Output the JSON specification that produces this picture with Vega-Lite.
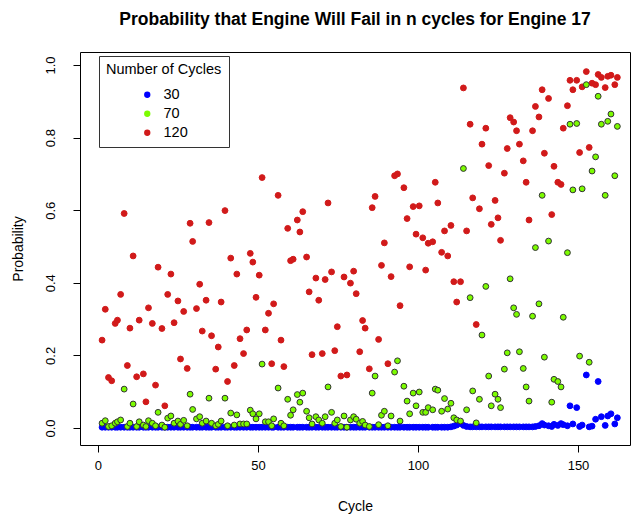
{
  "$schema": "https://vega.github.io/schema/vega-lite/v6.json",
  "autosize": "none",
  "width": 550,
  "height": 393,
  "padding": {"left": 80, "top": 52, "right": 7, "bottom": 70},
  "background": "white",
  "config": {
    "font": "Liberation Sans",
    "view": {"stroke": "black", "strokeWidth": 1},
    "axis": {"grid": false, "domain": false, "tickColor": "black", "tickSize": 7, "labelColor": "black", "labelFontSize": 13, "titleFontSize": 14, "titleFontWeight": "normal", "titleColor": "black", "labelFont": "Liberation Sans", "titleFont": "Liberation Sans"}
  },
  "title": {"text": "Probability that Engine Will Fail in n cycles for Engine 17", "fontSize": 17.5, "fontWeight": "bold", "font": "Liberation Sans", "color": "black", "offset": 24, "anchor": "middle"},
  "data": {"values": [
{"c":1.3,"s":"30","p":0.002},{"c":2.3,"s":"30","p":0.002},{"c":3.3,"s":"30","p":0.002},{"c":4.3,"s":"30","p":0.002},{"c":5.4,"s":"30","p":0.002},{"c":6.1,"s":"30","p":0.002},{"c":7.1,"s":"30","p":0.002},{"c":8.2,"s":"30","p":0.002},{"c":9.2,"s":"30","p":0.002},{"c":10,"s":"30","p":0.002},
{"c":11,"s":"30","p":0.002},{"c":12.1,"s":"30","p":0.002},{"c":12.9,"s":"30","p":0.002},{"c":14.2,"s":"30","p":0.002},{"c":15,"s":"30","p":0.002},{"c":15.8,"s":"30","p":0.002},{"c":17,"s":"30","p":0.002},{"c":18,"s":"30","p":0.002},{"c":18.8,"s":"30","p":0.002},{"c":20,"s":"30","p":0.002},
{"c":20.9,"s":"30","p":0.002},{"c":21.8,"s":"30","p":0.002},{"c":22.8,"s":"30","p":0.002},{"c":23.8,"s":"30","p":0.002},{"c":25,"s":"30","p":0.002},{"c":25.8,"s":"30","p":0.002},{"c":26.8,"s":"30","p":0.002},{"c":27.9,"s":"30","p":0.002},{"c":28.8,"s":"30","p":0.002},{"c":29.6,"s":"30","p":0.002},
{"c":30.8,"s":"30","p":0.002},{"c":31.8,"s":"30","p":0.002},{"c":32.6,"s":"30","p":0.002},{"c":33.8,"s":"30","p":0.002},{"c":34.7,"s":"30","p":0.002},{"c":35.5,"s":"30","p":0.002},{"c":36.8,"s":"30","p":0.002},{"c":37.6,"s":"30","p":0.002},{"c":38.5,"s":"30","p":0.002},{"c":39.7,"s":"30","p":0.002},
{"c":40.5,"s":"30","p":0.002},{"c":41.5,"s":"30","p":0.002},{"c":42.6,"s":"30","p":0.002},{"c":43.4,"s":"30","p":0.002},{"c":44.4,"s":"30","p":0.002},{"c":45.5,"s":"30","p":0.002},{"c":46.5,"s":"30","p":0.002},{"c":47.6,"s":"30","p":0.002},{"c":48.4,"s":"30","p":0.002},{"c":49.4,"s":"30","p":0.002},
{"c":50.4,"s":"30","p":0.002},{"c":51.3,"s":"30","p":0.002},{"c":52.3,"s":"30","p":0.002},{"c":53.3,"s":"30","p":0.002},{"c":54.3,"s":"30","p":0.002},{"c":54.9,"s":"30","p":0.002},{"c":56.3,"s":"30","p":0.002},{"c":57.2,"s":"30","p":0.002},{"c":58.1,"s":"30","p":0.002},{"c":59.3,"s":"30","p":0.002},
{"c":60.2,"s":"30","p":0.002},{"c":61,"s":"30","p":0.002},{"c":62.3,"s":"30","p":0.002},{"c":63.1,"s":"30","p":0.002},{"c":64,"s":"30","p":0.002},{"c":65.2,"s":"30","p":0.002},{"c":66,"s":"30","p":0.002},{"c":66.9,"s":"30","p":0.002},{"c":68.1,"s":"30","p":0.002},{"c":69,"s":"30","p":0.002},
{"c":70.1,"s":"30","p":0.002},{"c":71,"s":"30","p":0.002},{"c":71.9,"s":"30","p":0.002},{"c":73,"s":"30","p":0.002},{"c":74,"s":"30","p":0.002},{"c":74.8,"s":"30","p":0.002},{"c":75.9,"s":"30","p":0.002},{"c":76.9,"s":"30","p":0.002},{"c":77.8,"s":"30","p":0.002},{"c":78.9,"s":"30","p":0.002},
{"c":79.9,"s":"30","p":0.002},{"c":80.7,"s":"30","p":0.002},{"c":81.8,"s":"30","p":0.002},{"c":82.7,"s":"30","p":0.002},{"c":83.5,"s":"30","p":0.002},{"c":84.8,"s":"30","p":0.002},{"c":85.7,"s":"30","p":0.002},{"c":86.6,"s":"30","p":0.002},{"c":87.7,"s":"30","p":0.002},{"c":88.6,"s":"30","p":0.002},
{"c":89.5,"s":"30","p":0.002},{"c":90.6,"s":"30","p":0.002},{"c":91.6,"s":"30","p":0.002},{"c":92.7,"s":"30","p":0.002},{"c":93.6,"s":"30","p":0.002},{"c":94.4,"s":"30","p":0.002},{"c":95.6,"s":"30","p":0.002},{"c":96.6,"s":"30","p":0.002},{"c":97.4,"s":"30","p":0.002},{"c":98.5,"s":"30","p":0.002},
{"c":99.4,"s":"30","p":0.002},{"c":100.4,"s":"30","p":0.002},{"c":101.5,"s":"30","p":0.002},{"c":102.4,"s":"30","p":0.002},{"c":103.2,"s":"30","p":0.002},{"c":104.6,"s":"30","p":0.002},{"c":105.4,"s":"30","p":0.002},{"c":106.2,"s":"30","p":0.002},{"c":107.4,"s":"30","p":0.002},{"c":108.3,"s":"30","p":0.002},
{"c":109.3,"s":"30","p":0.002},{"c":110.3,"s":"30","p":0.003},{"c":111.2,"s":"30","p":0.005},{"c":112.1,"s":"30","p":0.008},{"c":113.3,"s":"30","p":0.012},{"c":114.2,"s":"30","p":0.007},{"c":115.2,"s":"30","p":0.004},{"c":116.3,"s":"30","p":0.003},{"c":117.1,"s":"30","p":0.003},{"c":118.2,"s":"30","p":0.003},
{"c":119.2,"s":"30","p":0.003},{"c":120,"s":"30","p":0.003},{"c":121.2,"s":"30","p":0.003},{"c":122.1,"s":"30","p":0.003},{"c":122.9,"s":"30","p":0.003},{"c":124.1,"s":"30","p":0.003},{"c":125,"s":"30","p":0.003},{"c":125.8,"s":"30","p":0.003},{"c":127,"s":"30","p":0.003},{"c":127.9,"s":"30","p":0.003},
{"c":128.8,"s":"30","p":0.003},{"c":129.9,"s":"30","p":0.003},{"c":130.8,"s":"30","p":0.003},{"c":131.7,"s":"30","p":0.003},{"c":132.9,"s":"30","p":0.003},{"c":133.8,"s":"30","p":0.003},{"c":134.7,"s":"30","p":0.003},{"c":135.8,"s":"30","p":0.003},{"c":136.7,"s":"30","p":0.004},{"c":137.8,"s":"30","p":0.006},
{"c":138.8,"s":"30","p":0.012},{"c":139.5,"s":"30","p":0.008},{"c":140.8,"s":"30","p":0.006},{"c":141.8,"s":"30","p":0.004},{"c":142.5,"s":"30","p":0.01},{"c":143.7,"s":"30","p":0.007},{"c":144.7,"s":"30","p":0.012},{"c":145.4,"s":"30","p":0.009},{"c":146.7,"s":"30","p":0.006},{"c":147.5,"s":"30","p":0.061},
{"c":148.4,"s":"30","p":0.011},{"c":149.6,"s":"30","p":0.056},{"c":150.5,"s":"30","p":0.004},{"c":151.3,"s":"30","p":0.008},{"c":152.6,"s":"30","p":0.146},{"c":153.5,"s":"30","p":0.003},{"c":154.4,"s":"30","p":0.005},{"c":155.5,"s":"30","p":0.024},{"c":156.3,"s":"30","p":0.128},{"c":157.3,"s":"30","p":0.031},
{"c":158.5,"s":"30","p":0.007},{"c":159.3,"s":"30","p":0.033},{"c":160.3,"s":"30","p":0.039},{"c":161.5,"s":"30","p":0.011},{"c":162.3,"s":"30","p":0.028},
{"c":1.3,"s":"120","p":0.242},{"c":2.3,"s":"120","p":0.327},{"c":3.3,"s":"120","p":0.139},{"c":4.3,"s":"120","p":0.13},{"c":5.4,"s":"120","p":0.288},{"c":6.1,"s":"120","p":0.297},{"c":7.1,"s":"120","p":0.368},{"c":8.2,"s":"120","p":0.591},{"c":9.2,"s":"120","p":0.172},{"c":10,"s":"120","p":0.275},
{"c":11,"s":"120","p":0.474},{"c":12.1,"s":"120","p":0.141},{"c":12.9,"s":"120","p":0.297},{"c":14.2,"s":"120","p":0.149},{"c":15,"s":"120","p":0.072},{"c":15.8,"s":"120","p":0.331},{"c":17,"s":"120","p":0.288},{"c":18,"s":"120","p":0.118},{"c":18.8,"s":"120","p":0.443},{"c":20,"s":"120","p":0.274},
{"c":20.9,"s":"120","p":0.061},{"c":21.8,"s":"120","p":0.368},{"c":22.8,"s":"120","p":0.424},{"c":23.8,"s":"120","p":0.29},{"c":25,"s":"120","p":0.35},{"c":25.8,"s":"120","p":0.19},{"c":26.8,"s":"120","p":0.321},{"c":27.9,"s":"120","p":0.164},{"c":28.8,"s":"120","p":0.564},{"c":29.6,"s":"120","p":0.514},
{"c":30.8,"s":"120","p":0.329},{"c":31.8,"s":"120","p":0.396},{"c":32.6,"s":"120","p":0.267},{"c":33.8,"s":"120","p":0.352},{"c":34.7,"s":"120","p":0.566},{"c":35.5,"s":"120","p":0.254},{"c":36.8,"s":"120","p":0.162},{"c":37.6,"s":"120","p":0.223},{"c":38.5,"s":"120","p":0.347},{"c":39.7,"s":"120","p":0.599},
{"c":40.5,"s":"120","p":0.128},{"c":41.5,"s":"120","p":0.468},{"c":42.6,"s":"120","p":0.172},{"c":43.4,"s":"120","p":0.424},{"c":44.4,"s":"120","p":0.246},{"c":45.5,"s":"120","p":0.205},{"c":46.5,"s":"120","p":0.27},{"c":47.6,"s":"120","p":0.481},{"c":48.4,"s":"120","p":0.457},{"c":49.4,"s":"120","p":0.36},
{"c":50.4,"s":"120","p":0.421},{"c":51.3,"s":"120","p":0.69},{"c":52.3,"s":"120","p":0.27},{"c":53.3,"s":"120","p":0.316},{"c":54.3,"s":"120","p":0.177},{"c":54.9,"s":"120","p":0.342},{"c":56.3,"s":"120","p":0.641},{"c":57.2,"s":"120","p":0.242},{"c":58.1,"s":"120","p":0.169},{"c":59.3,"s":"120","p":0.55},
{"c":60.2,"s":"120","p":0.461},{"c":61,"s":"120","p":0.465},{"c":62.3,"s":"120","p":0.573},{"c":63.1,"s":"120","p":0.54},{"c":64,"s":"120","p":0.596},{"c":65.2,"s":"120","p":0.471},{"c":66,"s":"120","p":0.375},{"c":66.9,"s":"120","p":0.202},{"c":68.1,"s":"120","p":0.413},{"c":69,"s":"120","p":0.352},
{"c":70.1,"s":"120","p":0.205},{"c":71,"s":"120","p":0.409},{"c":71.9,"s":"120","p":0.62},{"c":73,"s":"120","p":0.43},{"c":74,"s":"120","p":0.213},{"c":74.8,"s":"120","p":0.279},{"c":75.9,"s":"120","p":0.143},{"c":76.9,"s":"120","p":0.416},{"c":77.8,"s":"120","p":0.146},{"c":78.9,"s":"120","p":0.399},
{"c":79.9,"s":"120","p":0.432},{"c":80.7,"s":"120","p":0.37},{"c":81.8,"s":"120","p":0.21},{"c":82.7,"s":"120","p":0.296},{"c":83.5,"s":"120","p":0.275},{"c":84.8,"s":"120","p":0.163},{"c":85.7,"s":"120","p":0.607},{"c":86.6,"s":"120","p":0.638},{"c":87.7,"s":"120","p":0.244},{"c":88.6,"s":"120","p":0.448},
{"c":89.5,"s":"120","p":0.51},{"c":90.6,"s":"120","p":0.177},{"c":91.6,"s":"120","p":0.417},{"c":92.7,"s":"120","p":0.695},{"c":93.6,"s":"120","p":0.7},{"c":94.4,"s":"120","p":0.337},{"c":95.6,"s":"120","p":0.662},{"c":96.6,"s":"120","p":0.577},{"c":97.4,"s":"120","p":0.444},{"c":98.5,"s":"120","p":0.61},
{"c":99.4,"s":"120","p":0.534},{"c":100.4,"s":"120","p":0.612},{"c":101.5,"s":"120","p":0.524},{"c":102.4,"s":"120","p":0.435},{"c":103.2,"s":"120","p":0.509},{"c":104.6,"s":"120","p":0.513},{"c":105.4,"s":"120","p":0.677},{"c":106.2,"s":"120","p":0.62},{"c":107.4,"s":"120","p":0.484},{"c":108.3,"s":"120","p":0.543},
{"c":109.3,"s":"120","p":0.474},{"c":110.3,"s":"120","p":0.558},{"c":111.2,"s":"120","p":0.403},{"c":112.1,"s":"120","p":0.347},{"c":113.3,"s":"120","p":0.403},{"c":114.2,"s":"120","p":0.937},{"c":115.2,"s":"120","p":0.543},{"c":116.3,"s":"120","p":0.837},{"c":117.1,"s":"120","p":0.634},{"c":118.2,"s":"120","p":0.285},
{"c":119.2,"s":"120","p":0.604},{"c":120,"s":"120","p":0.782},{"c":121.2,"s":"120","p":0.826},{"c":122.1,"s":"120","p":0.723},{"c":122.9,"s":"120","p":0.561},{"c":124.1,"s":"120","p":0.627},{"c":125,"s":"120","p":0.579},{"c":125.8,"s":"120","p":0.517},{"c":127,"s":"120","p":0.702},{"c":127.9,"s":"120","p":0.77},
{"c":128.8,"s":"120","p":0.855},{"c":129.9,"s":"120","p":0.843},{"c":130.8,"s":"120","p":0.819},{"c":131.7,"s":"120","p":0.782},{"c":132.9,"s":"120","p":0.736},{"c":133.8,"s":"120","p":0.677},{"c":134.7,"s":"120","p":0.573},{"c":135.8,"s":"120","p":0.819},{"c":136.7,"s":"120","p":0.886},{"c":137.8,"s":"120","p":0.857},
{"c":138.8,"s":"120","p":0.932},{"c":139.5,"s":"120","p":0.757},{"c":140.8,"s":"120","p":0.908},{"c":141.8,"s":"120","p":0.588},{"c":142.5,"s":"120","p":0.721},{"c":143.7,"s":"120","p":0.677},{"c":144.7,"s":"120","p":0.671},{"c":145.4,"s":"120","p":0.826},{"c":146.7,"s":"120","p":0.888},{"c":147.5,"s":"120","p":0.958},
{"c":148.4,"s":"120","p":0.932},{"c":149.6,"s":"120","p":0.958},{"c":150.5,"s":"120","p":0.759},{"c":151.3,"s":"120","p":0.94},{"c":152.6,"s":"120","p":0.982},{"c":153.5,"s":"120","p":0.773},{"c":154.4,"s":"120","p":0.95},{"c":155.5,"s":"120","p":0.946},{"c":156.3,"s":"120","p":0.974},{"c":157.3,"s":"120","p":0.966},
{"c":158.5,"s":"120","p":0.938},{"c":159.3,"s":"120","p":0.969},{"c":160.3,"s":"120","p":0.972},{"c":161.5,"s":"120","p":0.946},{"c":162.3,"s":"120","p":0.966},
{"c":1.3,"s":"70","p":0.013},{"c":2.3,"s":"70","p":0.02},{"c":3.3,"s":"70","p":0.004},{"c":4.3,"s":"70","p":0.006},{"c":5.4,"s":"70","p":0.013},{"c":6.1,"s":"70","p":0.017},{"c":7.1,"s":"70","p":0.022},{"c":8.2,"s":"70","p":0.107},{"c":9.2,"s":"70","p":0.004},{"c":10,"s":"70","p":0.013},
{"c":11,"s":"70","p":0.066},{"c":12.1,"s":"70","p":0.004},{"c":12.9,"s":"70","p":0.017},{"c":14.2,"s":"70","p":0.008},{"c":15,"s":"70","p":0.004},{"c":15.8,"s":"70","p":0.02},{"c":17,"s":"70","p":0.013},{"c":18,"s":"70","p":0.006},{"c":18.8,"s":"70","p":0.043},{"c":20,"s":"70","p":0.008},
{"c":20.9,"s":"70","p":0.002},{"c":21.8,"s":"70","p":0.027},{"c":22.8,"s":"70","p":0.033},{"c":23.8,"s":"70","p":0.013},{"c":25,"s":"70","p":0.019},{"c":25.8,"s":"70","p":0.01},{"c":26.8,"s":"70","p":0.021},{"c":27.9,"s":"70","p":0.006},{"c":28.8,"s":"70","p":0.093},{"c":29.6,"s":"70","p":0.051},
{"c":30.8,"s":"70","p":0.025},{"c":31.8,"s":"70","p":0.031},{"c":32.6,"s":"70","p":0.013},{"c":33.8,"s":"70","p":0.019},{"c":34.7,"s":"70","p":0.082},{"c":35.5,"s":"70","p":0.013},{"c":36.8,"s":"70","p":0.006},{"c":37.6,"s":"70","p":0.01},{"c":38.5,"s":"70","p":0.019},{"c":39.7,"s":"70","p":0.082},
{"c":40.5,"s":"70","p":0.006},{"c":41.5,"s":"70","p":0.041},{"c":42.6,"s":"70","p":0.008},{"c":43.4,"s":"70","p":0.036},{"c":44.4,"s":"70","p":0.011},{"c":45.5,"s":"70","p":0.011},{"c":46.5,"s":"70","p":0.011},{"c":47.6,"s":"70","p":0.049},{"c":48.4,"s":"70","p":0.039},{"c":49.4,"s":"70","p":0.025},
{"c":50.4,"s":"70","p":0.039},{"c":51.3,"s":"70","p":0.176},{"c":52.3,"s":"70","p":0.017},{"c":53.3,"s":"70","p":0.017},{"c":54.3,"s":"70","p":0.006},{"c":54.9,"s":"70","p":0.025},{"c":56.3,"s":"70","p":0.11},{"c":57.2,"s":"70","p":0.013},{"c":58.1,"s":"70","p":0.006},{"c":59.3,"s":"70","p":0.079},
{"c":60.2,"s":"70","p":0.035},{"c":61,"s":"70","p":0.05},{"c":62.3,"s":"70","p":0.092},{"c":63.1,"s":"70","p":0.071},{"c":64,"s":"70","p":0.096},{"c":65.2,"s":"70","p":0.046},{"c":66,"s":"70","p":0.028},{"c":66.9,"s":"70","p":0.011},{"c":68.1,"s":"70","p":0.031},{"c":69,"s":"70","p":0.022},
{"c":70.1,"s":"70","p":0.013},{"c":71,"s":"70","p":0.031},{"c":71.9,"s":"70","p":0.113},{"c":73,"s":"70","p":0.043},{"c":74,"s":"70","p":0.013},{"c":74.8,"s":"70","p":0.022},{"c":75.9,"s":"70","p":0.004},{"c":76.9,"s":"70","p":0.033},{"c":77.8,"s":"70","p":0.002},{"c":78.9,"s":"70","p":0.022},
{"c":79.9,"s":"70","p":0.031},{"c":80.7,"s":"70","p":0.024},{"c":81.8,"s":"70","p":0.013},{"c":82.7,"s":"70","p":0.018},{"c":83.5,"s":"70","p":0.008},{"c":84.8,"s":"70","p":0.004},{"c":85.7,"s":"70","p":0.096},{"c":86.6,"s":"70","p":0.143},{"c":87.7,"s":"70","p":0.009},{"c":88.6,"s":"70","p":0.035},
{"c":89.5,"s":"70","p":0.046},{"c":90.6,"s":"70","p":0.006},{"c":91.6,"s":"70","p":0.033},{"c":92.7,"s":"70","p":0.154},{"c":93.6,"s":"70","p":0.185},{"c":94.4,"s":"70","p":0.019},{"c":95.6,"s":"70","p":0.115},{"c":96.6,"s":"70","p":0.074},{"c":97.4,"s":"70","p":0.039},{"c":98.5,"s":"70","p":0.096},
{"c":99.4,"s":"70","p":0.061},{"c":100.4,"s":"70","p":0.099},{"c":101.5,"s":"70","p":0.043},{"c":102.4,"s":"70","p":0.043},{"c":103.2,"s":"70","p":0.056},{"c":104.6,"s":"70","p":0.05},{"c":105.4,"s":"70","p":0.107},{"c":106.2,"s":"70","p":0.104},{"c":107.4,"s":"70","p":0.046},{"c":108.3,"s":"70","p":0.081},
{"c":109.3,"s":"70","p":0.052},{"c":110.3,"s":"70","p":0.068},{"c":111.2,"s":"70","p":0.028},{"c":112.1,"s":"70","p":0.022},{"c":113.3,"s":"70","p":0.019},{"c":114.2,"s":"70","p":0.715},{"c":115.2,"s":"70","p":0.05},{"c":116.3,"s":"70","p":0.359},{"c":117.1,"s":"70","p":0.102},{"c":118.2,"s":"70","p":0.014},
{"c":119.2,"s":"70","p":0.079},{"c":120,"s":"70","p":0.256},{"c":121.2,"s":"70","p":0.39},{"c":122.1,"s":"70","p":0.143},{"c":122.9,"s":"70","p":0.061},{"c":124.1,"s":"70","p":0.093},{"c":125,"s":"70","p":0.079},{"c":125.8,"s":"70","p":0.056},{"c":127,"s":"70","p":0.162},{"c":127.9,"s":"70","p":0.207},
{"c":128.8,"s":"70","p":0.411},{"c":129.9,"s":"70","p":0.331},{"c":130.8,"s":"70","p":0.313},{"c":131.7,"s":"70","p":0.21},{"c":132.9,"s":"70","p":0.164},{"c":133.8,"s":"70","p":0.113},{"c":134.7,"s":"70","p":0.074},{"c":135.8,"s":"70","p":0.308},{"c":136.7,"s":"70","p":0.497},{"c":137.8,"s":"70","p":0.342},
{"c":138.8,"s":"70","p":0.641},{"c":139.5,"s":"70","p":0.195},{"c":140.8,"s":"70","p":0.515},{"c":141.8,"s":"70","p":0.071},{"c":142.5,"s":"70","p":0.134},{"c":143.7,"s":"70","p":0.128},{"c":144.7,"s":"70","p":0.113},{"c":145.4,"s":"70","p":0.305},{"c":146.7,"s":"70","p":0.483},{"c":147.5,"s":"70","p":0.837},
{"c":148.4,"s":"70","p":0.656},{"c":149.6,"s":"70","p":0.839},{"c":150.5,"s":"70","p":0.198},{"c":151.3,"s":"70","p":0.659},{"c":152.6,"s":"70","p":0.946},{"c":153.5,"s":"70","p":0.181},{"c":154.4,"s":"70","p":0.708},{"c":155.5,"s":"70","p":0.747},{"c":156.3,"s":"70","p":0.914},{"c":157.3,"s":"70","p":0.837},
{"c":158.5,"s":"70","p":0.641},{"c":159.3,"s":"70","p":0.845},{"c":160.3,"s":"70","p":0.865},{"c":161.5,"s":"70","p":0.695},{"c":162.3,"s":"70","p":0.831}
  ]},
  "mark": {"type": "point", "filled": true, "size": 34, "strokeWidth": 1, "opacity": 1},
  "encoding": {
    "x": {"field": "c", "type": "quantitative", "scale": {"domain": [-5.6, 166.25], "nice": false, "zero": false},
      "axis": {"title": "Cycle", "values": [0, 50, 100, 150], "labelPadding": 7, "titlePadding": 27}},
    "y": {"field": "p", "type": "quantitative", "scale": {"domain": [-0.047, 1.036], "nice": false, "zero": false},
      "axis": {"title": "Probability", "values": [0, 0.2, 0.4, 0.6, 0.8, 1.0], "format": ".1f", "labelAngle": 270, "labelAlign": "center", "labelBaseline": "bottom", "labelPadding": 16, "titlePadding": 19}},
    "fill": {"field": "s", "type": "nominal", "scale": {"domain": ["30", "70", "120"], "range": ["#0000FF", "#7CFC00", "#D11A1A"]},
      "legend": {"title": "Number of Cycles", "orient": "none", "legendX": 19, "legendY": 4, "strokeColor": "#333333", "fillColor": "white", "padding": 7, "titleFontSize": 14.5, "titleFontWeight": "normal", "titleColor": "black", "labelFontSize": 14.5, "labelColor": "black", "symbolType": "circle", "symbolSize": 40, "symbolStrokeWidth": 0, "symbolOffset": 34, "rowPadding": 4, "titlePadding": 10, "labelOffset": 9}},
    "stroke": {"field": "s", "type": "nominal", "scale": {"domain": ["30", "70", "120"], "range": ["#0000FF", "#333333", "#D11A1A"]}, "legend": null}
  }
}
